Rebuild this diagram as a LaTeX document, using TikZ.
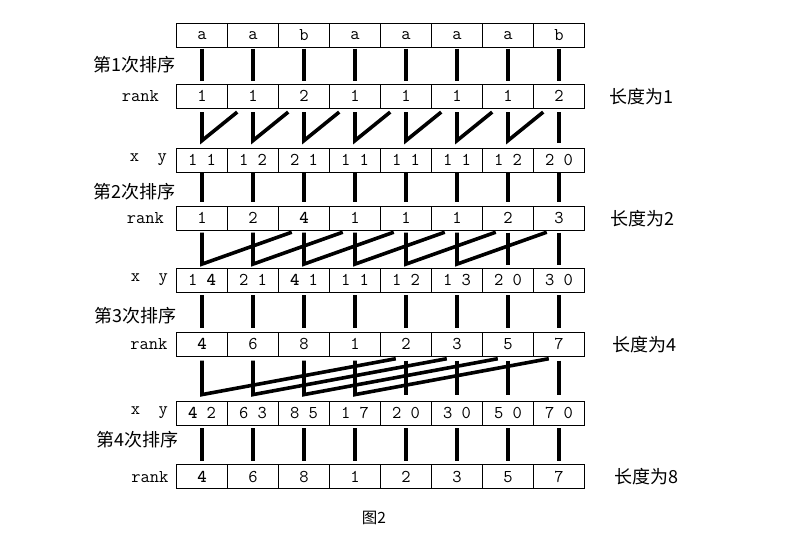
\documentclass[tikz,border=0pt]{standalone}
\usepackage{fontspec}
\newfontfamily\cjkfont{Noto Sans CJK SC}
\usetikzlibrary{positioning,calc}

\begin{document}
\begin{tikzpicture}[
  x=1pt, y=-1pt,
  cell/.style={rectangle, draw, line width=0.8pt, minimum width=51pt, minimum height=24pt, inner sep=0pt, font=\ttfamily\fontsize{18}{18}\selectfont},
  tag/.style={inner sep=0pt, font=\ttfamily\fontsize{18}{18}\selectfont},
  cjk/.style={inner sep=0pt, font=\cjkfont\fontsize{18}{18}\selectfont},
  bar/.style={line width=3.6pt},
  zig/.style={line width=3.6pt, line join=miter}
]
\useasboundingbox (0,0) rectangle (801,543);

% rows of cells
\foreach \txt [count=\i] in {a,a,b,a,a,a,a,b}
  \node[cell] (str-\i) at ({151+51*\i},35.3) {\txt};
\foreach \txt [count=\i] in {1,1,2,1,1,1,1,2}
  \node[cell] (rk1-\i) at ({151+51*\i},96.3) {\txt};
\foreach \txt [count=\i] in {1 1,1 2,2 1,1 1,1 1,1 1,1 2,2 0}
  \node[cell] (xy1-\i) at ({151+51*\i},160) {\txt};
\foreach \txt [count=\i] in {1,2,\textbf{4},1,1,1,2,3}
  \node[cell] (rk2-\i) at ({151+51*\i},218.3) {\txt};
\foreach \txt [count=\i] in {1 \textbf{4},2 1,\textbf{4} 1,1 1,1 2,1 3,2 0,3 0}
  \node[cell] (xy2-\i) at ({151+51*\i},280) {\txt};
\foreach \txt [count=\i] in {\textbf{4},6,8,1,2,3,5,7}
  \node[cell] (rk3-\i) at ({151+51*\i},344.3) {\txt};
\foreach \txt [count=\i] in {\textbf{4} 2,6 3,8 5,1 7,2 0,3 0,5 0,7 0}
  \node[cell] (xy3-\i) at ({151+51*\i},413) {\txt};
\foreach \txt [count=\i] in {\textbf{4},6,8,1,2,3,5,7}
  \node[cell] (rk4-\i) at ({151+51*\i},476.7) {\txt};

% left and right labels
\node[cjk, anchor=west] (sort1) at (93,65) {第1次排序};
\node[cjk, anchor=west] (sort2) at (93,191.7) {第2次排序};
\node[cjk, anchor=west] (sort3) at (94,316) {第3次排序};
\node[cjk, anchor=west] (sort4) at (96,440) {第4次排序};

\node[tag, left=17pt of rk1-1] (rank1) {rank};
\node[tag, left=12pt of rk2-1] (rank2) {rank};
\node[tag, left=8.5pt of rk3-1] (rank3) {rank};
\node[tag, left=7.5pt of rk4-1] (rank4) {rank};
\node[tag, left=9pt of xy1-1] (pair1) {x~~y};
\node[tag, left=8pt of xy2-1] (pair2) {x~~y};
\node[tag, left=8pt of xy3-1] (pair3) {x~~y};

\node[cjk, right=24pt of rk1-8] (len1) {长度为1};
\node[cjk, right=25.5pt of rk2-8] (len2) {长度为2};
\node[cjk, right=27pt of rk3-8] (len4) {长度为4};
\node[cjk, right=29pt of rk4-8] (len8) {长度为8};

\node[cjk, font=\cjkfont\fontsize{15.5}{16}\selectfont] (fig) at (374,518) {图2};

% straight links
\foreach \i in {1,...,8} {
  \draw[bar, shorten <=1pt, shorten >=3.3pt] (str-\i) -- (rk1-\i);
  \draw[bar, shorten <=0.5pt, shorten >=3.7pt] (xy1-\i) -- (rk2-\i);
  \draw[bar, shorten <=2.7pt, shorten >=4pt] (xy2-\i) -- (rk3-\i);
  \draw[bar, shorten <=3pt, shorten >=3pt] (xy3-\i) -- (rk4-\i);
}

% length 1
\foreach \i [evaluate=\i as \j using int(\i+1)] in {1,...,7}
  \draw[zig] ([yshift=-3.4pt]rk1-\i.south) -- ([yshift=7pt]xy1-\i.north)
    -- ([yshift=-3.4pt]$(rk1-\i.south)!0.69!(rk1-\j.south)$);
\draw[bar, shorten <=3.4pt, shorten >=5pt] (rk1-8) -- (xy1-8);

% length 2
\foreach \i [evaluate=\i as \k using int(\i+2)] in {1,...,6}
  \draw[zig] ([yshift=-2pt]rk2-\i.south) -- ([yshift=3.5pt]xy2-\i.north)
    -- ([yshift=-1.5pt]$(rk2-\i.south)!0.88!(rk2-\k.south)$);
\foreach \i in {7,8}
  \draw[bar, shorten <=2pt, shorten >=3pt] (rk2-\i) -- (xy2-\i);

% length 4
\foreach \i [evaluate=\i as \k using int(\i+4)] in {1,...,4}
  \draw[zig] ([yshift=-4pt]rk3-\i.south) -- ([yshift=6pt]xy3-\i.north)
    -- ([yshift=-2pt]$(rk3-\i.south)!0.95!(rk3-\k.south)$);
\foreach \i in {5,...,8}
  \draw[bar, shorten <=4pt, shorten >=6pt] (rk3-\i) -- (xy3-\i);
\end{tikzpicture}
\end{document}
